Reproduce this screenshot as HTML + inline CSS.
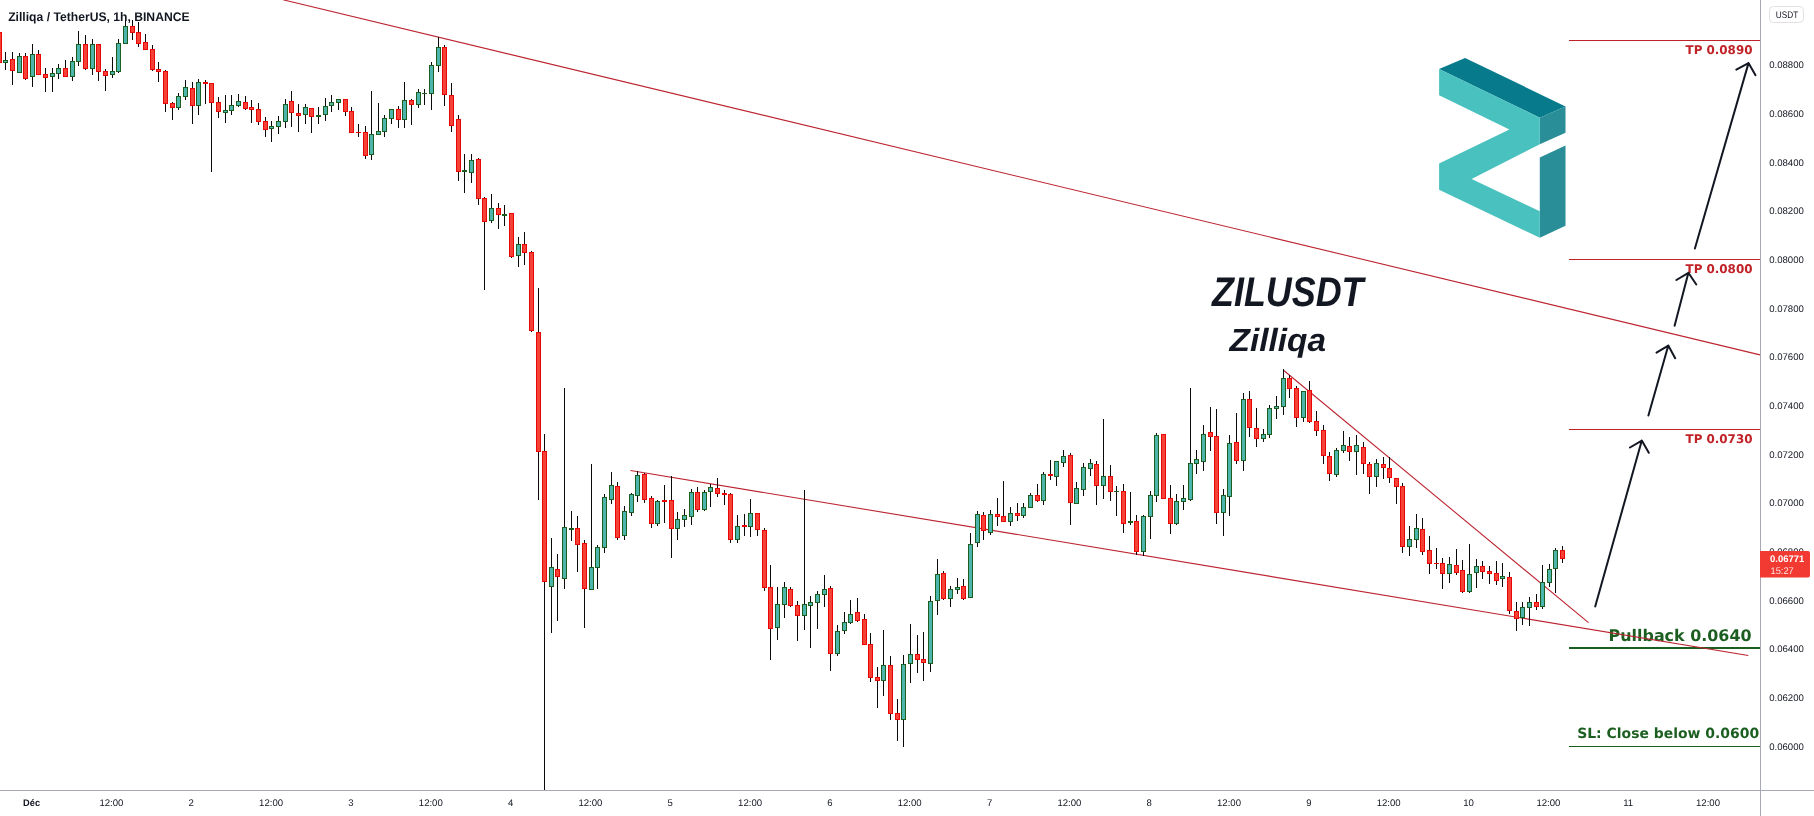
<!DOCTYPE html>
<html><head><meta charset="utf-8"><title>ZILUSDT chart</title>
<style>html,body{margin:0;padding:0;background:#fff}body{width:1814px;height:816px;overflow:hidden;position:relative}text{white-space:pre;text-rendering:geometricPrecision}</style></head>
<body>
<svg width="1814" height="816" viewBox="0 0 1814 816" style="position:absolute;left:0;top:0;will-change:transform">
<g shape-rendering="crispEdges">
<rect x="1569" y="40" width="191" height="1" fill="#c02328"/>
<rect x="1569" y="259" width="191" height="1" fill="#c02328"/>
<rect x="1569" y="429" width="191" height="1" fill="#c02328"/>
<rect x="1569" y="647" width="191" height="2" fill="#1b5e20"/>
<rect x="1569" y="746" width="191" height="1" fill="#1b5e20"/>
</g>
<text x="1685.5" y="53.7" font-size="12" fill="#c02328" font-family="DejaVu Sans, Verdana, sans-serif" font-weight="bold" font-style="normal" text-anchor="start" textLength="67" lengthAdjust="spacingAndGlyphs">TP 0.0890</text>
<text x="1685.5" y="272.9" font-size="12" fill="#c02328" font-family="DejaVu Sans, Verdana, sans-serif" font-weight="bold" font-style="normal" text-anchor="start" textLength="67" lengthAdjust="spacingAndGlyphs">TP 0.0800</text>
<text x="1685.5" y="443.1" font-size="12" fill="#c02328" font-family="DejaVu Sans, Verdana, sans-serif" font-weight="bold" font-style="normal" text-anchor="start" textLength="67" lengthAdjust="spacingAndGlyphs">TP 0.0730</text>
<text x="1608.6" y="640.8" font-size="16" fill="#1b5e20" font-family="DejaVu Sans, Verdana, sans-serif" font-weight="bold" font-style="normal" text-anchor="start" textLength="143" lengthAdjust="spacingAndGlyphs">Pullback 0.0640</text>
<text x="1577.2" y="737.9" font-size="14" fill="#1b5e20" font-family="DejaVu Sans, Verdana, sans-serif" font-weight="bold" font-style="normal" text-anchor="start" textLength="182" lengthAdjust="spacingAndGlyphs">SL: Close below 0.0600</text>
<g stroke="#bc2430" stroke-width="1.08" fill="none">
<line x1="283" y1="-0.25" x2="1760" y2="354.9"/>
<line x1="630.5" y1="470.5" x2="1748.3" y2="655.5"/>
<line x1="1283.2" y1="370" x2="1588.5" y2="622.7"/>
</g>
<g shape-rendering="crispEdges">
<path fill="#0a0a0a" d="M-1 32h1V63h-1zM5 52h1V70h-1zM12 52h1V85h-1zM19 53h1V73h-1zM25 53h1V80h-1zM32 44h1V87h-1zM38 50h1V75h-1zM45 68h1V92h-1zM52 68h1V92h-1zM58 64h1V79h-1zM65 60h1V77h-1zM72 57h1V81h-1zM78 31h1V66h-1zM85 35h1V70h-1zM92 39h1V75h-1zM98 44h1V81h-1zM105 69h1V91h-1zM112 57h1V78h-1zM118 39h1V73h-1zM125 18h1V44h-1zM132 20h1V40h-1zM138 22h1V47h-1zM145 34h1V50h-1zM152 45h1V71h-1zM158 62h1V82h-1zM165 70h1V112h-1zM172 102h1V120h-1zM178 93h1V110h-1zM185 80h1V100h-1zM192 82h1V124h-1zM198 79h1V115h-1zM205 80h1V104h-1zM211 83h1V172h-1zM218 97h1V118h-1zM225 95h1V123h-1zM231 95h1V115h-1zM238 94h1V107h-1zM245 96h1V110h-1zM251 100h1V123h-1zM258 103h1V125h-1zM265 117h1V137h-1zM271 121h1V142h-1zM278 116h1V134h-1zM285 99h1V128h-1zM291 91h1V127h-1zM298 104h1V132h-1zM305 104h1V124h-1zM311 108h1V133h-1zM318 107h1V124h-1zM325 98h1V121h-1zM331 95h1V112h-1zM338 99h1V110h-1zM345 99h1V116h-1zM351 107h1V133h-1zM358 124h1V137h-1zM365 126h1V159h-1zM371 91h1V160h-1zM378 103h1V135h-1zM384 115h1V137h-1zM391 109h1V124h-1zM398 106h1V128h-1zM404 82h1V128h-1zM411 99h1V125h-1zM418 89h1V108h-1zM424 89h1V105h-1zM431 62h1V110h-1zM438 37h1V72h-1zM444 45h1V106h-1zM451 83h1V132h-1zM458 115h1V181h-1zM464 154h1V193h-1zM471 154h1V183h-1zM478 158h1V205h-1zM484 197h1V290h-1zM491 194h1V223h-1zM498 203h1V229h-1zM504 205h1V226h-1zM511 213h1V258h-1zM518 237h1V267h-1zM524 232h1V265h-1zM531 251h1V332h-1zM538 288h1V500h-1zM544 434h1V790h-1zM551 538h1V633h-1zM557 554h1V621h-1zM564 388h1V589h-1zM571 511h1V541h-1zM577 516h1V572h-1zM584 540h1V628h-1zM591 464h1V590h-1zM597 545h1V589h-1zM604 494h1V553h-1zM611 472h1V504h-1zM617 482h1V540h-1zM624 506h1V540h-1zM631 493h1V516h-1zM637 471h1V502h-1zM644 473h1V503h-1zM651 496h1V528h-1zM657 500h1V526h-1zM664 485h1V523h-1zM671 476h1V558h-1zM677 512h1V540h-1zM684 509h1V527h-1zM691 489h1V525h-1zM697 487h1V512h-1zM704 490h1V511h-1zM710 484h1V507h-1zM717 478h1V497h-1zM724 490h1V505h-1zM730 493h1V543h-1zM737 515h1V543h-1zM744 514h1V536h-1zM750 499h1V537h-1zM757 513h1V536h-1zM764 528h1V591h-1zM770 565h1V660h-1zM777 587h1V640h-1zM784 582h1V618h-1zM790 587h1V607h-1zM797 601h1V641h-1zM804 490h1V630h-1zM810 596h1V648h-1zM817 591h1V629h-1zM824 575h1V607h-1zM830 586h1V671h-1zM837 625h1V656h-1zM844 612h1V634h-1zM850 600h1V624h-1zM857 598h1V622h-1zM864 614h1V645h-1zM870 633h1V682h-1zM877 667h1V708h-1zM883 630h1V696h-1zM890 656h1V720h-1zM897 699h1V741h-1zM903 655h1V747h-1zM910 624h1V683h-1zM917 635h1V673h-1zM923 632h1V681h-1zM930 596h1V672h-1zM937 559h1V615h-1zM943 571h1V600h-1zM950 586h1V607h-1zM957 578h1V594h-1zM963 579h1V600h-1zM970 533h1V598h-1zM977 511h1V547h-1zM983 512h1V540h-1zM990 510h1V535h-1zM997 498h1V526h-1zM1003 481h1V522h-1zM1010 507h1V526h-1zM1017 503h1V521h-1zM1023 503h1V518h-1zM1030 493h1V508h-1zM1037 484h1V502h-1zM1043 472h1V505h-1zM1050 460h1V480h-1zM1056 461h1V486h-1zM1063 450h1V467h-1zM1070 453h1V525h-1zM1076 482h1V504h-1zM1083 463h1V496h-1zM1090 459h1V476h-1zM1096 461h1V505h-1zM1103 419h1V499h-1zM1110 465h1V501h-1zM1116 486h1V516h-1zM1123 484h1V533h-1zM1130 492h1V525h-1zM1136 515h1V555h-1zM1143 515h1V556h-1zM1150 491h1V539h-1zM1156 433h1V502h-1zM1163 434h1V499h-1zM1170 485h1V534h-1zM1176 494h1V525h-1zM1183 485h1V510h-1zM1190 388h1V501h-1zM1196 450h1V474h-1zM1203 425h1V471h-1zM1210 407h1V451h-1zM1216 409h1V524h-1zM1223 489h1V536h-1zM1229 435h1V516h-1zM1236 413h1V464h-1zM1243 393h1V471h-1zM1249 391h1V437h-1zM1256 408h1V447h-1zM1263 429h1V442h-1zM1269 405h1V438h-1zM1276 396h1V419h-1zM1283 369h1V415h-1zM1289 375h1V398h-1zM1296 386h1V427h-1zM1303 391h1V422h-1zM1309 381h1V423h-1zM1316 411h1V436h-1zM1323 425h1V464h-1zM1329 452h1V481h-1zM1336 448h1V477h-1zM1343 431h1V453h-1zM1349 437h1V461h-1zM1356 435h1V475h-1zM1363 442h1V474h-1zM1369 462h1V494h-1zM1376 459h1V487h-1zM1383 457h1V479h-1zM1389 457h1V483h-1zM1396 478h1V504h-1zM1402 483h1V553h-1zM1409 526h1V556h-1zM1416 514h1V548h-1zM1422 518h1V555h-1zM1429 536h1V574h-1zM1436 548h1V569h-1zM1442 558h1V589h-1zM1449 557h1V583h-1zM1456 549h1V575h-1zM1462 560h1V593h-1zM1469 544h1V593h-1zM1476 559h1V588h-1zM1482 561h1V579h-1zM1489 566h1V584h-1zM1496 561h1V585h-1zM1502 563h1V587h-1zM1509 572h1V614h-1zM1516 602h1V631h-1zM1522 602h1V625h-1zM1529 597h1V626h-1zM1536 594h1V610h-1zM1542 565h1V609h-1zM1549 564h1V587h-1zM1555 548h1V593h-1zM1562 546h1V563h-1z"/>
<path fill="#1b5e20" d="M3 60h5v3h-5zM17 56h5v17h-5zM30 54h5v23h-5zM50 73h5v4h-5zM56 68h5v6h-5zM70 61h5v16h-5zM76 44h5v18h-5zM90 44h5v25h-5zM110 71h5v4h-5zM116 43h5v29h-5zM123 26h5v18h-5zM176 96h5v12h-5zM183 87h5v10h-5zM196 82h5v24h-5zM223 110h5v3h-5zM229 105h5v6h-5zM236 101h5v5h-5zM269 126h5v3h-5zM276 121h5v6h-5zM283 104h5v18h-5zM303 107h5v8h-5zM316 115h5v2h-5zM323 106h5v9h-5zM329 102h5v4h-5zM336 99h5v4h-5zM369 134h5v21h-5zM376 131h5v4h-5zM382 118h5v14h-5zM389 109h5v10h-5zM402 100h5v20h-5zM416 92h5v13h-5zM422 93h5v1h-5zM429 65h5v29h-5zM436 47h5v19h-5zM462 170h5v2h-5zM469 160h5v13h-5zM489 208h5v13h-5zM502 214h5v2h-5zM516 244h5v12h-5zM549 567h5v20h-5zM562 527h5v52h-5zM569 528h5v2h-5zM589 567h5v23h-5zM595 547h5v21h-5zM602 497h5v51h-5zM609 485h5v15h-5zM622 511h5v25h-5zM629 494h5v19h-5zM635 475h5v21h-5zM655 501h5v23h-5zM675 519h5v10h-5zM682 515h5v5h-5zM689 492h5v25h-5zM702 492h5v18h-5zM708 487h5v5h-5zM735 526h5v14h-5zM748 513h5v14h-5zM775 604h5v24h-5zM782 587h5v18h-5zM802 604h5v12h-5zM808 602h5v4h-5zM815 594h5v9h-5zM822 589h5v6h-5zM835 631h5v23h-5zM842 622h5v9h-5zM848 614h5v9h-5zM881 665h5v16h-5zM901 664h5v56h-5zM908 654h5v10h-5zM928 601h5v63h-5zM935 574h5v27h-5zM948 589h5v10h-5zM955 587h5v3h-5zM968 544h5v54h-5zM975 514h5v29h-5zM988 514h5v19h-5zM1008 513h5v9h-5zM1021 507h5v9h-5zM1028 495h5v13h-5zM1041 474h5v27h-5zM1054 461h5v16h-5zM1061 456h5v7h-5zM1074 488h5v16h-5zM1081 467h5v23h-5zM1088 463h5v6h-5zM1101 476h5v10h-5zM1114 491h5v1h-5zM1128 521h5v2h-5zM1141 516h5v36h-5zM1148 495h5v22h-5zM1154 435h5v61h-5zM1174 501h5v23h-5zM1181 498h5v4h-5zM1188 463h5v37h-5zM1194 459h5v5h-5zM1201 434h5v28h-5zM1221 495h5v18h-5zM1227 443h5v54h-5zM1241 399h5v62h-5zM1261 434h5v5h-5zM1267 408h5v27h-5zM1274 406h5v3h-5zM1281 378h5v29h-5zM1301 391h5v27h-5zM1334 450h5v25h-5zM1341 445h5v6h-5zM1354 445h5v7h-5zM1374 463h5v14h-5zM1407 539h5v8h-5zM1414 528h5v12h-5zM1447 564h5v10h-5zM1467 574h5v18h-5zM1474 566h5v7h-5zM1500 576h5v3h-5zM1520 607h5v11h-5zM1527 602h5v6h-5zM1540 582h5v25h-5zM1547 569h5v14h-5zM1553 550h5v19h-5z"/>
<path fill="#4db6ac" d="M4 61h3v1h-3zM18 57h3v15h-3zM31 55h3v21h-3zM51 74h3v2h-3zM57 69h3v4h-3zM71 62h3v14h-3zM77 45h3v16h-3zM91 45h3v23h-3zM111 72h3v2h-3zM117 44h3v27h-3zM124 27h3v16h-3zM177 97h3v10h-3zM184 88h3v8h-3zM197 83h3v22h-3zM224 111h3v1h-3zM230 106h3v4h-3zM237 102h3v3h-3zM270 127h3v1h-3zM277 122h3v4h-3zM284 105h3v16h-3zM304 108h3v6h-3zM324 107h3v7h-3zM330 103h3v2h-3zM337 100h3v2h-3zM370 135h3v19h-3zM377 132h3v2h-3zM383 119h3v12h-3zM390 110h3v8h-3zM403 101h3v18h-3zM417 93h3v11h-3zM430 66h3v27h-3zM437 48h3v17h-3zM470 161h3v11h-3zM490 209h3v11h-3zM517 245h3v10h-3zM550 568h3v18h-3zM563 528h3v50h-3zM590 568h3v21h-3zM596 548h3v19h-3zM603 498h3v49h-3zM610 486h3v13h-3zM623 512h3v23h-3zM630 495h3v17h-3zM636 476h3v19h-3zM656 502h3v21h-3zM676 520h3v8h-3zM683 516h3v3h-3zM690 493h3v23h-3zM703 493h3v16h-3zM709 488h3v3h-3zM736 527h3v12h-3zM749 514h3v12h-3zM776 605h3v22h-3zM783 588h3v16h-3zM803 605h3v10h-3zM809 603h3v2h-3zM816 595h3v7h-3zM823 590h3v4h-3zM836 632h3v21h-3zM843 623h3v7h-3zM849 615h3v7h-3zM882 666h3v14h-3zM902 665h3v54h-3zM909 655h3v8h-3zM929 602h3v61h-3zM936 575h3v25h-3zM949 590h3v8h-3zM956 588h3v1h-3zM969 545h3v52h-3zM976 515h3v27h-3zM989 515h3v17h-3zM1009 514h3v7h-3zM1022 508h3v7h-3zM1029 496h3v11h-3zM1042 475h3v25h-3zM1055 462h3v14h-3zM1062 457h3v5h-3zM1075 489h3v14h-3zM1082 468h3v21h-3zM1089 464h3v4h-3zM1102 477h3v8h-3zM1142 517h3v34h-3zM1149 496h3v20h-3zM1155 436h3v59h-3zM1175 502h3v21h-3zM1182 499h3v2h-3zM1189 464h3v35h-3zM1195 460h3v3h-3zM1202 435h3v26h-3zM1222 496h3v16h-3zM1228 444h3v52h-3zM1242 400h3v60h-3zM1262 435h3v3h-3zM1268 409h3v25h-3zM1275 407h3v1h-3zM1282 379h3v27h-3zM1302 392h3v25h-3zM1335 451h3v23h-3zM1342 446h3v4h-3zM1355 446h3v5h-3zM1375 464h3v12h-3zM1408 540h3v6h-3zM1415 529h3v10h-3zM1448 565h3v8h-3zM1468 575h3v16h-3zM1475 567h3v5h-3zM1501 577h3v1h-3zM1521 608h3v9h-3zM1528 603h3v4h-3zM1541 583h3v23h-3zM1548 570h3v12h-3zM1554 551h3v17h-3z"/>
<path fill="#ea0606" d="M-3 32h5v31h-5zM10 59h5v12h-5zM23 56h5v23h-5zM36 54h5v21h-5zM43 74h5v4h-5zM63 68h5v9h-5zM83 44h5v25h-5zM96 44h5v28h-5zM103 71h5v5h-5zM130 26h5v7h-5zM136 32h5v12h-5zM143 42h5v8h-5zM150 49h5v21h-5zM156 69h5v3h-5zM163 71h5v33h-5zM170 103h5v5h-5zM190 88h5v18h-5zM203 82h5v2h-5zM209 83h5v20h-5zM216 102h5v10h-5zM243 102h5v7h-5zM249 107h5v3h-5zM256 109h5v13h-5zM263 121h5v9h-5zM289 101h5v12h-5zM296 113h5v3h-5zM309 108h5v9h-5zM343 99h5v13h-5zM349 111h5v22h-5zM356 132h5v1h-5zM363 132h5v24h-5zM396 109h5v11h-5zM409 100h5v5h-5zM442 47h5v48h-5zM449 95h5v31h-5zM456 119h5v53h-5zM476 159h5v40h-5zM482 198h5v24h-5zM496 208h5v7h-5zM509 213h5v44h-5zM522 244h5v9h-5zM529 252h5v79h-5zM536 332h5v120h-5zM542 451h5v131h-5zM555 569h5v8h-5zM575 528h5v17h-5zM582 543h5v46h-5zM615 486h5v52h-5zM642 474h5v26h-5zM649 498h5v26h-5zM662 500h5v2h-5zM669 500h5v29h-5zM695 492h5v18h-5zM715 488h5v6h-5zM722 493h5v2h-5zM728 494h5v46h-5zM742 525h5v2h-5zM755 513h5v17h-5zM762 530h5v58h-5zM768 587h5v42h-5zM788 589h5v17h-5zM795 605h5v11h-5zM828 588h5v66h-5zM855 612h5v9h-5zM862 619h5v26h-5zM868 644h5v34h-5zM875 677h5v4h-5zM888 665h5v49h-5zM895 713h5v7h-5zM915 654h5v6h-5zM921 659h5v4h-5zM941 573h5v26h-5zM961 586h5v13h-5zM981 515h5v16h-5zM995 514h5v3h-5zM1001 516h5v6h-5zM1015 513h5v3h-5zM1035 495h5v6h-5zM1048 474h5v2h-5zM1068 455h5v48h-5zM1094 464h5v22h-5zM1108 476h5v16h-5zM1121 491h5v33h-5zM1134 521h5v31h-5zM1161 434h5v65h-5zM1168 498h5v26h-5zM1208 432h5v5h-5zM1214 436h5v77h-5zM1234 442h5v19h-5zM1247 399h5v29h-5zM1254 428h5v11h-5zM1287 378h5v11h-5zM1294 388h5v30h-5zM1307 390h5v32h-5zM1314 421h5v10h-5zM1321 430h5v26h-5zM1327 456h5v18h-5zM1347 446h5v6h-5zM1361 447h5v17h-5zM1367 464h5v13h-5zM1381 464h5v4h-5zM1387 468h5v10h-5zM1394 478h5v9h-5zM1400 486h5v61h-5zM1420 529h5v23h-5zM1427 550h5v14h-5zM1434 563h5v1h-5zM1440 563h5v11h-5zM1454 565h5v8h-5zM1460 570h5v22h-5zM1480 566h5v6h-5zM1487 571h5v3h-5zM1494 573h5v8h-5zM1507 577h5v34h-5zM1514 611h5v8h-5zM1534 602h5v5h-5zM1560 550h5v9h-5z"/>
<path fill="#f44336" d="M-2 33h3v29h-3zM11 60h3v10h-3zM24 57h3v21h-3zM37 55h3v19h-3zM44 75h3v2h-3zM64 69h3v7h-3zM84 45h3v23h-3zM97 45h3v26h-3zM104 72h3v3h-3zM131 27h3v5h-3zM137 33h3v10h-3zM144 43h3v6h-3zM151 50h3v19h-3zM157 70h3v1h-3zM164 72h3v31h-3zM171 104h3v3h-3zM191 89h3v16h-3zM210 84h3v18h-3zM217 103h3v8h-3zM244 103h3v5h-3zM250 108h3v1h-3zM257 110h3v11h-3zM264 122h3v7h-3zM290 102h3v10h-3zM297 114h3v1h-3zM310 109h3v7h-3zM344 100h3v11h-3zM350 112h3v20h-3zM364 133h3v22h-3zM397 110h3v9h-3zM410 101h3v3h-3zM443 48h3v46h-3zM450 96h3v29h-3zM457 120h3v51h-3zM477 160h3v38h-3zM483 199h3v22h-3zM497 209h3v5h-3zM510 214h3v42h-3zM523 245h3v7h-3zM530 253h3v77h-3zM537 333h3v118h-3zM543 452h3v129h-3zM556 570h3v6h-3zM576 529h3v15h-3zM583 544h3v44h-3zM616 487h3v50h-3zM643 475h3v24h-3zM650 499h3v24h-3zM670 501h3v27h-3zM696 493h3v16h-3zM716 489h3v4h-3zM729 495h3v44h-3zM756 514h3v15h-3zM763 531h3v56h-3zM769 588h3v40h-3zM789 590h3v15h-3zM796 606h3v9h-3zM829 589h3v64h-3zM856 613h3v7h-3zM863 620h3v24h-3zM869 645h3v32h-3zM876 678h3v2h-3zM889 666h3v47h-3zM896 714h3v5h-3zM916 655h3v4h-3zM922 660h3v2h-3zM942 574h3v24h-3zM962 587h3v11h-3zM982 516h3v14h-3zM996 515h3v1h-3zM1002 517h3v4h-3zM1016 514h3v1h-3zM1036 496h3v4h-3zM1069 456h3v46h-3zM1095 465h3v20h-3zM1109 477h3v14h-3zM1122 492h3v31h-3zM1135 522h3v29h-3zM1162 435h3v63h-3zM1169 499h3v24h-3zM1209 433h3v3h-3zM1215 437h3v75h-3zM1235 443h3v17h-3zM1248 400h3v27h-3zM1255 429h3v9h-3zM1288 379h3v9h-3zM1295 389h3v28h-3zM1308 391h3v30h-3zM1315 422h3v8h-3zM1322 431h3v24h-3zM1328 457h3v16h-3zM1348 447h3v4h-3zM1362 448h3v15h-3zM1368 465h3v11h-3zM1382 465h3v2h-3zM1388 469h3v8h-3zM1395 479h3v7h-3zM1401 487h3v59h-3zM1421 530h3v21h-3zM1428 551h3v12h-3zM1441 564h3v9h-3zM1455 566h3v6h-3zM1461 571h3v20h-3zM1481 567h3v4h-3zM1488 572h3v1h-3zM1495 574h3v6h-3zM1508 578h3v32h-3zM1515 612h3v6h-3zM1535 603h3v3h-3zM1561 551h3v7h-3z"/>
</g>
<g>
<polygon fill="#077a8b" points="1439.1,69.1 1465.1,58 1565.5,106.4 1539.8,117.7"/>
<polygon fill="#298e98" points="1539.8,117.7 1565.5,106.4 1565.5,132.7 1539.8,144.2"/>
<polygon fill="#298e98" points="1539.8,157.6 1565.5,145.5 1565.5,225.8 1539.8,237.7"/>
<polygon fill="#49c1bf" points="1439.1,69.1 1539.8,117.7 1539.8,144.2 1471.6,179 1539.8,211.2 1539.8,237.7 1439.1,189.8 1439.1,163.6 1509.4,129.6 1439.1,95.3"/>
</g>
<g stroke="#131722" stroke-width="2" fill="none" stroke-linecap="round" stroke-linejoin="round">
<path d="M1595.2 606.5L1641.8 440.6M1630 447.5L1641.8 440.6L1648.8 452.7" />
<path d="M1648.4 415.5L1668.3 345.6M1656.5 352.6L1668.3 345.6L1675.2 358.2" />
<path d="M1674.6 325.8L1688.4 272.8M1676.4 280L1688.4 272.8L1696.3 284.5" />
<path d="M1694.9 248.5L1748.5 63.1M1736.3 69.6L1748.5 63.1L1755.5 75.2" />
</g>
<g shape-rendering="crispEdges">
<rect x="1760" y="0" width="1" height="816" fill="#a7aab4"/>
<rect x="0" y="790" width="1814" height="1" fill="#a7aab4"/>
</g>
<text x="8.2" y="20.6" font-size="12.5" fill="#131722" font-family="Liberation Sans, Arial, sans-serif" font-weight="bold" font-style="normal" text-anchor="start" textLength="181.4" lengthAdjust="spacingAndGlyphs">Zilliqa / TetherUS, 1h, BINANCE</text>
<text x="1212" y="305.9" font-size="41.5" fill="#131722" font-family="Liberation Sans, Arial, sans-serif" font-weight="bold" font-style="italic" text-anchor="start" textLength="151.5" lengthAdjust="spacingAndGlyphs">ZILUSDT</text>
<text x="1229.5" y="351.4" font-size="32" fill="#131722" font-family="Liberation Sans, Arial, sans-serif" font-weight="bold" font-style="italic" text-anchor="start" textLength="96.5" lengthAdjust="spacingAndGlyphs">Zilliqa</text>
<text x="1769.2" y="749.8" font-size="9.6" fill="#131722" font-family="Liberation Sans, Arial, sans-serif" font-weight="normal" font-style="normal" text-anchor="start" textLength="34.7" lengthAdjust="spacingAndGlyphs">0.06000</text>
<text x="1769.2" y="701.1" font-size="9.6" fill="#131722" font-family="Liberation Sans, Arial, sans-serif" font-weight="normal" font-style="normal" text-anchor="start" textLength="34.7" lengthAdjust="spacingAndGlyphs">0.06200</text>
<text x="1769.2" y="652.4" font-size="9.6" fill="#131722" font-family="Liberation Sans, Arial, sans-serif" font-weight="normal" font-style="normal" text-anchor="start" textLength="34.7" lengthAdjust="spacingAndGlyphs">0.06400</text>
<text x="1769.2" y="603.7" font-size="9.6" fill="#131722" font-family="Liberation Sans, Arial, sans-serif" font-weight="normal" font-style="normal" text-anchor="start" textLength="34.7" lengthAdjust="spacingAndGlyphs">0.06600</text>
<text x="1769.2" y="555.0" font-size="9.6" fill="#131722" font-family="Liberation Sans, Arial, sans-serif" font-weight="normal" font-style="normal" text-anchor="start" textLength="34.7" lengthAdjust="spacingAndGlyphs">0.06800</text>
<text x="1769.2" y="506.3" font-size="9.6" fill="#131722" font-family="Liberation Sans, Arial, sans-serif" font-weight="normal" font-style="normal" text-anchor="start" textLength="34.7" lengthAdjust="spacingAndGlyphs">0.07000</text>
<text x="1769.2" y="457.6" font-size="9.6" fill="#131722" font-family="Liberation Sans, Arial, sans-serif" font-weight="normal" font-style="normal" text-anchor="start" textLength="34.7" lengthAdjust="spacingAndGlyphs">0.07200</text>
<text x="1769.2" y="408.9" font-size="9.6" fill="#131722" font-family="Liberation Sans, Arial, sans-serif" font-weight="normal" font-style="normal" text-anchor="start" textLength="34.7" lengthAdjust="spacingAndGlyphs">0.07400</text>
<text x="1769.2" y="360.2" font-size="9.6" fill="#131722" font-family="Liberation Sans, Arial, sans-serif" font-weight="normal" font-style="normal" text-anchor="start" textLength="34.7" lengthAdjust="spacingAndGlyphs">0.07600</text>
<text x="1769.2" y="311.5" font-size="9.6" fill="#131722" font-family="Liberation Sans, Arial, sans-serif" font-weight="normal" font-style="normal" text-anchor="start" textLength="34.7" lengthAdjust="spacingAndGlyphs">0.07800</text>
<text x="1769.2" y="262.8" font-size="9.6" fill="#131722" font-family="Liberation Sans, Arial, sans-serif" font-weight="normal" font-style="normal" text-anchor="start" textLength="34.7" lengthAdjust="spacingAndGlyphs">0.08000</text>
<text x="1769.2" y="214.1" font-size="9.6" fill="#131722" font-family="Liberation Sans, Arial, sans-serif" font-weight="normal" font-style="normal" text-anchor="start" textLength="34.7" lengthAdjust="spacingAndGlyphs">0.08200</text>
<text x="1769.2" y="165.5" font-size="9.6" fill="#131722" font-family="Liberation Sans, Arial, sans-serif" font-weight="normal" font-style="normal" text-anchor="start" textLength="34.7" lengthAdjust="spacingAndGlyphs">0.08400</text>
<text x="1769.2" y="116.8" font-size="9.6" fill="#131722" font-family="Liberation Sans, Arial, sans-serif" font-weight="normal" font-style="normal" text-anchor="start" textLength="34.7" lengthAdjust="spacingAndGlyphs">0.08600</text>
<text x="1769.2" y="68.1" font-size="9.6" fill="#131722" font-family="Liberation Sans, Arial, sans-serif" font-weight="normal" font-style="normal" text-anchor="start" textLength="34.7" lengthAdjust="spacingAndGlyphs">0.08800</text>
<path d="M1760 551H1808a2 2 0 0 1 2 2V575.5a2 2 0 0 1 -2 2H1760z" fill="#f23a32"/>
<text x="1770" y="561.9" font-size="9.6" fill="#ffffff" font-family="Liberation Sans, Arial, sans-serif" font-weight="bold" font-style="normal" text-anchor="start" textLength="34.2" lengthAdjust="spacingAndGlyphs">0.06771</text>
<text x="1770.5" y="573.9" font-size="9.6" fill="#fde3e1" font-family="Liberation Sans, Arial, sans-serif" font-weight="normal" font-style="normal" text-anchor="start" textLength="23.2" lengthAdjust="spacingAndGlyphs">15:27</text>
<rect x="1769.5" y="6.5" width="34" height="16" rx="4" ry="4" fill="#fff" stroke="#e3dfe2" stroke-width="1"/>
<text x="1775.8" y="17.9" font-size="9.6" fill="#131722" font-family="Liberation Sans, Arial, sans-serif" font-weight="normal" font-style="normal" text-anchor="start" textLength="22.4" lengthAdjust="spacingAndGlyphs">USDT</text>
<text x="23.1" y="806.2" font-size="9.6" fill="#131722" font-family="Liberation Sans, Arial, sans-serif" font-weight="bold" font-style="normal" text-anchor="start" textLength="17" lengthAdjust="spacingAndGlyphs">Déc</text>
<text x="99.4" y="806.2" font-size="9.6" fill="#131722" font-family="Liberation Sans, Arial, sans-serif" font-weight="normal" font-style="normal" text-anchor="start" textLength="24" lengthAdjust="spacingAndGlyphs">12:00</text>
<text x="188.6" y="806.2" font-size="9.6" fill="#131722" font-family="Liberation Sans, Arial, sans-serif" font-weight="normal" font-style="normal" text-anchor="start" textLength="5.3" lengthAdjust="spacingAndGlyphs">2</text>
<text x="259.1" y="806.2" font-size="9.6" fill="#131722" font-family="Liberation Sans, Arial, sans-serif" font-weight="normal" font-style="normal" text-anchor="start" textLength="24" lengthAdjust="spacingAndGlyphs">12:00</text>
<text x="348.3" y="806.2" font-size="9.6" fill="#131722" font-family="Liberation Sans, Arial, sans-serif" font-weight="normal" font-style="normal" text-anchor="start" textLength="5.3" lengthAdjust="spacingAndGlyphs">3</text>
<text x="418.8" y="806.2" font-size="9.6" fill="#131722" font-family="Liberation Sans, Arial, sans-serif" font-weight="normal" font-style="normal" text-anchor="start" textLength="24" lengthAdjust="spacingAndGlyphs">12:00</text>
<text x="507.9" y="806.2" font-size="9.6" fill="#131722" font-family="Liberation Sans, Arial, sans-serif" font-weight="normal" font-style="normal" text-anchor="start" textLength="5.3" lengthAdjust="spacingAndGlyphs">4</text>
<text x="578.4" y="806.2" font-size="9.6" fill="#131722" font-family="Liberation Sans, Arial, sans-serif" font-weight="normal" font-style="normal" text-anchor="start" textLength="24" lengthAdjust="spacingAndGlyphs">12:00</text>
<text x="667.6" y="806.2" font-size="9.6" fill="#131722" font-family="Liberation Sans, Arial, sans-serif" font-weight="normal" font-style="normal" text-anchor="start" textLength="5.3" lengthAdjust="spacingAndGlyphs">5</text>
<text x="738.1" y="806.2" font-size="9.6" fill="#131722" font-family="Liberation Sans, Arial, sans-serif" font-weight="normal" font-style="normal" text-anchor="start" textLength="24" lengthAdjust="spacingAndGlyphs">12:00</text>
<text x="827.2" y="806.2" font-size="9.6" fill="#131722" font-family="Liberation Sans, Arial, sans-serif" font-weight="normal" font-style="normal" text-anchor="start" textLength="5.3" lengthAdjust="spacingAndGlyphs">6</text>
<text x="897.7" y="806.2" font-size="9.6" fill="#131722" font-family="Liberation Sans, Arial, sans-serif" font-weight="normal" font-style="normal" text-anchor="start" textLength="24" lengthAdjust="spacingAndGlyphs">12:00</text>
<text x="986.9" y="806.2" font-size="9.6" fill="#131722" font-family="Liberation Sans, Arial, sans-serif" font-weight="normal" font-style="normal" text-anchor="start" textLength="5.3" lengthAdjust="spacingAndGlyphs">7</text>
<text x="1057.4" y="806.2" font-size="9.6" fill="#131722" font-family="Liberation Sans, Arial, sans-serif" font-weight="normal" font-style="normal" text-anchor="start" textLength="24" lengthAdjust="spacingAndGlyphs">12:00</text>
<text x="1146.6" y="806.2" font-size="9.6" fill="#131722" font-family="Liberation Sans, Arial, sans-serif" font-weight="normal" font-style="normal" text-anchor="start" textLength="5.3" lengthAdjust="spacingAndGlyphs">8</text>
<text x="1217.0" y="806.2" font-size="9.6" fill="#131722" font-family="Liberation Sans, Arial, sans-serif" font-weight="normal" font-style="normal" text-anchor="start" textLength="24" lengthAdjust="spacingAndGlyphs">12:00</text>
<text x="1306.2" y="806.2" font-size="9.6" fill="#131722" font-family="Liberation Sans, Arial, sans-serif" font-weight="normal" font-style="normal" text-anchor="start" textLength="5.3" lengthAdjust="spacingAndGlyphs">9</text>
<text x="1376.7" y="806.2" font-size="9.6" fill="#131722" font-family="Liberation Sans, Arial, sans-serif" font-weight="normal" font-style="normal" text-anchor="start" textLength="24" lengthAdjust="spacingAndGlyphs">12:00</text>
<text x="1463.2" y="806.2" font-size="9.6" fill="#131722" font-family="Liberation Sans, Arial, sans-serif" font-weight="normal" font-style="normal" text-anchor="start" textLength="10.7" lengthAdjust="spacingAndGlyphs">10</text>
<text x="1536.4" y="806.2" font-size="9.6" fill="#131722" font-family="Liberation Sans, Arial, sans-serif" font-weight="normal" font-style="normal" text-anchor="start" textLength="24" lengthAdjust="spacingAndGlyphs">12:00</text>
<text x="1623.2" y="806.2" font-size="9.6" fill="#131722" font-family="Liberation Sans, Arial, sans-serif" font-weight="normal" font-style="normal" text-anchor="start" textLength="10" lengthAdjust="spacingAndGlyphs">11</text>
<text x="1696.0" y="806.2" font-size="9.6" fill="#131722" font-family="Liberation Sans, Arial, sans-serif" font-weight="normal" font-style="normal" text-anchor="start" textLength="24" lengthAdjust="spacingAndGlyphs">12:00</text>
</svg>
</body></html>
